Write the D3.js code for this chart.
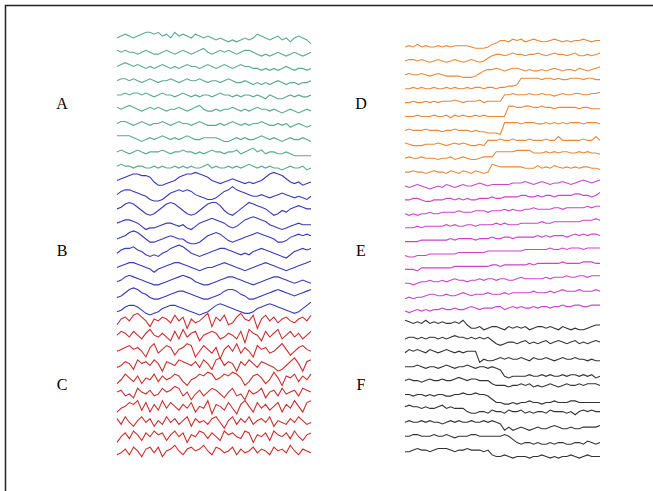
<!DOCTYPE html>
<html>
<head>
<meta charset="utf-8">
<script src="https://d3js.org/d3.v7.min.js"></script>
<style>
  body { margin: 0; background: #fff; }
</style>
</head>
<body>
<svg width="653" height="491"></svg>
<script>
var svg = d3.select("svg");
var width = +svg.attr("width");
var height = +svg.attr("height");

// group labels
var labels = ["A", "B", "C", "D", "E", "F"];

// A: low noise traces
var groupA = [
  [0,1,2,1,0,1,2,3,3,2,3,1,2,0,3,1,2,1,0,2,1,0,1,0,-1,0,-1,-2,-1,-2,-1,0,-1,0,2,1,0,-1,0,1,-1,0,-2,0,1,0,-1,-3],
  [1,0,1,0,0,-1,0,1,0,-1,-1,0,1,0,-1,0,1,0,-1,0,1,2,0,-1,0,1,0,1,0,-1,0,1,1,0,-1,-2,-1,-2,-1,0,-1,-2,-1,0,-1,-2,-1,0],
  [0,1,2,1,0,1,0,-1,0,-1,0,1,0,-1,0,-1,0,1,0,0,-1,0,1,0,-1,0,1,0,-1,0,1,0,0,-1,-1,-2,-1,-2,-1,-2,-1,0,-1,-2,-1,-1,-2,-1],
  [0,1,1,0,1,0,-1,0,1,0,-1,0,0,1,0,-1,0,1,0,0,1,0,-1,0,0,-1,0,1,0,-1,-1,0,-1,-2,-1,-2,-1,-2,-1,0,-1,-2,-1,-1,-2,-1,-1,0],
  [0,0,1,0,1,1,0,1,0,-1,0,1,0,0,-1,0,1,0,-1,0,-1,0,0,-1,0,1,0,0,-1,0,-1,0,0,-1,0,-1,-2,0,-1,-2,-2,-1,0,-1,0,-1,-1,0],
  [1,0,1,2,1,0,-1,0,1,0,1,0,-1,0,0,1,0,-1,0,1,2,0,-1,-1,0,-1,0,0,1,0,-1,0,-1,0,1,0,0,-1,0,-1,-2,-1,0,-1,-2,-1,0,-1],
  [0,1,1,0,-1,0,1,0,-1,0,0,1,0,-1,0,1,0,0,-1,0,1,0,-1,-1,-1,0,-1,0,1,0,-1,0,-1,0,0,1,0,-1,-1,0,-1,0,-2,-1,0,-1,-2,-1],
  [1,1,1,1,0,-1,-2,-1,0,-1,0,1,0,-1,0,-1,0,1,0,-1,-1,0,0,0,0,-1,-2,-2,-1,0,-1,0,-1,-1,0,1,0,-1,0,-1,-2,-1,0,-1,-1,0,-1,-2],
  [0,1,0,-1,0,1,0,-1,0,0,0,1,0,-1,0,0,1,0,0,-1,0,-1,0,1,0,0,-1,0,0,1,-1,0,1,2,0,1,-1,0,0,-1,-1,0,-1,-2,-2,-2,-2,-2],
  [0,1,0,0,-1,0,0,-1,-1,0,-1,0,-1,-1,0,-1,0,-1,0,-1,-1,0,1,-1,0,-1,-1,0,-1,0,-1,0,1,0,-1,0,-1,0,-1,-1,-2,-1,0,-1,-1,0,-2,-1]
];

// B: slow wave traces
var groupB = [
  [0,1,2,3,4,4,3,3,2,-1,-3,-3,-2,-1,0,2,3,4,4,5,4,3,2,0,-1,-2,-1,0,1,0,-1,-2,-1,-2,-1,0,2,4,5,4,3,1,-1,-2,-1,-3,-2,-1],
  [0,2,3,3,2,1,0,-1,-3,-4,-4,-3,-1,1,2,3,2,3,2,0,-1,-2,-3,-3,-2,0,2,3,5,3,2,1,0,-1,-1,0,-1,-2,-1,0,1,0,-1,-2,-1,-2,-3,-1],
  [0,1,3,4,3,1,-1,-3,-4,-3,-1,1,3,4,3,1,-1,-3,-4,-3,-1,1,3,4,4,2,-1,-3,-4,-2,0,2,4,3,2,1,0,-2,-4,-3,-1,-2,0,1,2,1,0,0],
  [0,1,2,2,1,0,-2,-4,-3,-3,-2,-1,0,0,-1,-2,-1,-3,-4,-2,0,1,2,3,2,1,0,-2,-3,-2,0,2,3,4,3,2,1,-1,-2,-3,-4,-3,-2,-1,0,-1,-1,-1],
  [-1,0,1,3,4,3,1,-1,-3,-3,-2,-1,0,1,0,-1,-1,-3,-4,-4,-3,-1,1,2,3,2,0,-2,-3,-2,-1,0,1,2,3,2,1,0,-1,-3,-3,-2,0,1,2,1,2,1],
  [-1,1,2,2,3,1,0,-2,-3,-2,-3,-1,0,2,3,4,3,1,-1,-2,-3,-2,-1,0,1,2,2,1,0,-1,-2,-1,-2,0,1,2,1,0,-1,-2,-3,-4,-2,0,1,2,1,2],
  [-1,0,1,2,2,1,0,-1,-2,-4,-2,-1,0,1,2,2,1,0,-1,-2,-3,-2,-1,-1,0,1,2,1,0,-1,-2,-3,-2,-1,0,1,2,1,0,-1,-2,-3,-2,-1,0,1,2,3],
  [-1,0,2,3,2,1,0,-1,-2,-3,-3,-2,-1,0,1,2,3,2,1,-1,-2,-3,-3,-2,-1,0,1,2,2,1,0,-1,-2,-3,-2,-1,0,1,2,2,1,0,-1,-2,-1,0,-1,-2],
  [-2,-1,1,3,4,3,1,0,-2,-3,-3,-2,-1,0,1,2,2,1,0,-1,-2,-3,-3,-2,-1,0,2,3,3,2,0,-1,-3,-3,-2,-1,0,1,2,3,2,1,0,-1,0,1,2,3],
  [-2,-1,1,2,2,1,-1,-3,-4,-3,-2,0,1,2,2,1,0,-1,-2,-3,-4,-3,-2,0,2,3,2,1,0,-1,-2,-3,-3,-2,0,1,2,3,2,1,0,-1,-2,-3,-2,0,2,4]
];

// C: fast, large noise traces
var groupC = [
  [-1,2,3,1,4,5,3,1,-2,2,1,3,2,0,4,1,3,-3,2,0,1,3,5,-2,3,1,4,-1,0,3,5,2,1,4,-3,2,4,1,3,0,2,3,1,0,2,3,1,4],
  [1,3,2,0,3,1,-1,2,4,1,0,2,0,-2,3,-1,4,0,2,3,-2,1,2,3,2,-1,0,2,1,-1,3,-3,4,2,1,-2,3,0,2,4,-1,1,3,0,2,-1,1,3],
  [0,1,2,3,1,2,0,-3,2,4,-1,1,3,2,-2,1,2,4,3,-3,0,3,1,-1,2,-4,1,3,0,4,-1,2,0,-3,3,1,2,-1,0,2,4,1,-2,0,2,3,1,0],
  [-1,0,2,1,-2,3,1,2,0,3,1,-3,2,1,0,3,2,1,0,2,-1,3,1,-2,3,4,0,2,1,-3,2,0,3,1,-1,2,1,0,-1,-3,-2,0,2,4,1,-3,2,3],
  [-2,0,3,1,-1,2,-2,1,0,3,-1,2,0,1,3,2,-1,-3,0,1,3,2,4,3,0,1,3,2,4,3,1,-3,-1,2,3,1,-2,0,4,1,-3,2,1,3,-1,2,0,3],
  [1,2,-1,0,-2,3,1,0,2,-1,0,3,1,2,4,3,-1,1,-3,0,2,-1,1,3,2,0,-2,1,3,-1,0,-3,2,0,1,3,-2,1,2,-1,3,0,1,2,-1,3,2,1],
  [-2,0,1,3,2,4,-1,3,-2,2,-1,4,0,3,1,-1,2,0,3,-2,1,0,4,-3,2,1,-1,3,0,-3,2,4,1,-2,3,0,2,-1,1,3,-2,2,0,4,1,-2,3,4],
  [2,-1,3,0,-2,1,3,0,2,-2,1,-1,3,0,2,-1,1,3,-2,2,0,1,-1,2,3,0,-3,1,3,-1,2,0,3,-1,1,2,0,3,-2,1,0,-1,2,0,3,1,-1,0],
  [-3,0,2,-1,3,1,-2,2,0,3,1,2,-2,1,3,0,2,-3,1,0,3,2,-1,2,0,-2,3,1,2,0,-1,3,2,-3,1,0,2,-2,3,1,0,2,-1,3,0,-2,1,2],
  [-2,-1,1,-2,2,0,-3,1,2,-1,2,-3,0,1,3,0,-2,1,2,0,1,3,0,-2,2,1,-1,0,2,-2,1,-1,0,2,-1,1,0,-2,2,0,1,-1,3,0,-2,1,0,-1]
];

// D: low noise with an upward step
var groupD = [
  [0,1,0,2,0,1,0,0,1,0,1,0,1,1,1,1,0,-1,-1,-1,0,2,3,5,5,4,6,5,6,4,5,6,5,4,4,5,6,5,4,5,4,5,5,6,5,4,5,5],
  [0,1,1,0,1,0,-1,0,1,0,-1,0,1,0,-1,0,1,0,-1,0,2,4,5,5,4,5,6,5,5,4,5,5,6,5,4,5,6,5,5,4,5,6,4,4,5,4,5,6],
  [0,1,0,0,1,0,-1,0,1,0,-1,-1,-1,-1,-2,-2,-2,-1,1,3,4,4,5,4,3,4,5,5,4,3,4,3,3,4,3,4,5,4,3,4,4,3,5,4,3,4,5,6],
  [0,0,1,0,1,0,0,1,0,0,1,0,1,0,0,1,0,1,1,0,1,1,0,1,1,2,2,3,8,8,8,8,8,7,8,8,7,8,7,7,8,8,8,7,8,8,7,7],
  [0,0,1,0,0,1,0,1,0,1,1,1,2,1,0,1,1,1,2,0,1,1,1,1,6,6,7,6,6,6,7,6,6,7,6,6,5,6,7,6,6,7,7,6,6,7,7,8],
  [0,0,0,1,0,0,0,1,0,0,1,-1,1,0,1,0,0,1,0,1,0,0,0,0,0,8,8,7,7,8,8,7,7,8,7,7,6,7,7,7,7,7,6,7,7,6,6,6],
  [0,1,0,0,0,1,0,0,0,-1,0,0,1,0,0,0,-1,0,-1,-1,-2,-2,-2,-3,6,6,6,6,5,6,6,6,5,5,6,5,6,5,6,5,6,6,6,5,6,6,6,5],
  [1,0,-1,-1,-1,0,0,0,1,0,-1,0,1,0,1,0,-1,-1,0,-1,3,3,3,4,3,3,4,3,3,3,4,3,3,3,4,3,3,6,3,3,3,3,3,4,3,3,6,3],
  [0,1,0,0,1,0,0,0,-1,0,0,1,-1,0,1,0,-1,-1,0,1,1,1,5,5,5,5,5,6,6,6,6,4,4,4,5,4,5,4,5,5,4,4,5,4,5,4,4,3],
  [0,0,1,0,0,-1,0,1,0,0,-1,1,0,-1,1,0,-1,1,0,-1,0,6,5,4,4,4,4,4,4,3,3,3,5,3,4,3,5,4,3,4,3,4,3,4,4,3,3,2]
];

// E: low noise with slow upward drift
var groupE = [
  [0,-1,0,1,0,-1,-2,-1,0,-1,1,0,-1,0,1,0,0,1,2,1,0,1,1,1,1,1,2,2,2,3,2,1,2,3,2,1,2,2,3,2,1,2,3,4,3,2,3,4],
  [0,0,1,1,0,-1,-1,0,0,0,1,1,0,1,0,1,0,0,1,1,1,2,1,1,2,2,2,2,3,3,2,2,3,2,3,3,2,3,3,3,3,4,4,3,3,2,3,5],
  [0,-1,0,-1,0,0,1,0,0,1,1,1,1,2,1,1,1,2,2,2,1,2,2,2,3,2,3,2,2,3,3,4,3,3,3,3,4,4,3,4,4,4,4,4,5,4,5,5],
  [0,0,0,1,0,1,1,1,1,1,2,1,2,1,1,2,2,1,2,2,2,2,3,2,3,2,2,2,3,3,3,3,3,4,3,3,4,4,4,4,4,4,4,5,5,5,6,5],
  [0,0,0,0,1,1,1,1,1,1,1,2,1,2,2,2,2,1,2,2,2,3,2,2,3,3,2,3,3,3,3,3,4,3,4,3,4,4,4,3,4,5,4,5,4,5,5,4],
  [0,-1,-1,0,0,0,1,1,1,1,1,1,1,2,2,2,2,2,2,2,3,3,3,3,3,3,3,3,3,4,4,4,4,4,4,5,4,4,5,4,5,5,5,4,5,5,5,5],
  [0,0,0,-1,1,1,1,1,1,1,1,1,2,2,2,2,2,2,2,2,2,3,3,2,3,3,3,3,3,3,4,3,4,4,4,4,4,4,5,4,4,4,4,5,5,5,4,4],
  [0,0,-1,0,1,1,2,1,1,2,1,2,3,2,2,1,2,2,3,2,3,3,2,3,3,2,2,3,4,3,3,3,3,3,4,3,4,4,4,5,4,4,5,5,4,5,5,5],
  [-1,0,-1,0,0,1,2,2,1,1,2,1,1,2,3,2,1,2,2,2,3,2,2,2,3,2,3,3,3,3,3,4,3,3,3,4,3,4,5,4,4,4,5,4,4,4,5,4],
  [0,-1,0,1,0,1,0,1,1,2,1,1,2,1,1,2,3,2,1,2,2,2,3,3,1,2,3,2,3,2,2,3,2,3,3,2,3,3,4,3,3,4,4,3,3,4,4,4]
];

// F: noise with a downward step
var groupF = [
  [3,2,1,2,1,3,1,2,1,2,1,1,2,1,3,0,-2,-2,-1,-3,-2,-1,-1,-2,-3,-1,-2,-1,-2,-1,-3,-2,-1,-1,-2,-1,-2,-3,-1,-2,-3,-2,-3,-3,-2,-1,0,0],
  [0,1,1,0,1,0,1,1,0,1,0,1,2,1,1,0,1,0,1,0,1,-1,-3,-4,-3,-2,-2,-3,-2,-1,-3,-2,-3,-2,-1,-3,-2,-1,-2,-3,-2,-1,-3,-2,-3,-2,-1,-2],
  [0,2,1,2,1,0,2,1,0,1,2,1,0,1,0,1,1,1,-6,-4,-5,-5,-4,-3,-4,-3,-4,-4,-3,-4,-5,-3,-4,-4,-3,-4,-5,-4,-3,-4,-4,-3,-4,-4,-5,-4,-5,-5],
  [0,0,0,1,0,-1,0,0,-1,0,1,0,-1,0,0,1,0,-1,0,0,-1,0,-1,-2,-6,-7,-6,-6,-6,-6,-5,-6,-6,-5,-6,-5,-6,-6,-5,-6,-5,-5,-6,-5,-6,-5,-7,-6],
  [0,1,0,0,-1,0,1,0,0,1,0,0,1,2,1,0,1,1,0,0,0,-2,-3,-3,-3,-4,-3,-3,-2,-3,-2,-4,-3,-4,-3,-2,-3,-4,-3,-2,-3,-3,-2,-3,-2,-2,-2,-3],
  [0,0,-1,0,0,-1,0,-1,0,0,-1,-1,0,0,1,0,0,1,0,0,-1,-3,-5,-5,-6,-6,-5,-6,-5,-5,-4,-5,-5,-6,-5,-5,-4,-5,-5,-5,-4,-4,-5,-5,-5,-5,-5,-5],
  [1,2,1,1,0,1,0,0,1,2,0,1,0,0,0,-2,-3,-3,-2,-2,-3,-1,-2,-2,-3,-1,-2,-2,-1,-3,-2,-3,-2,-2,-3,-1,-2,-2,-2,-3,-2,-4,-2,-1,-2,-1,-2,-2],
  [0,1,0,0,1,0,1,0,0,-1,0,1,0,1,0,0,1,0,0,1,0,1,0,-1,-5,-3,-5,-4,-3,-4,-5,-4,-3,-4,-4,-3,-2,-3,-4,-4,-3,-4,-4,-3,-3,-3,-3,-2],
  [0,0,1,1,0,0,0,1,0,0,1,0,-1,0,0,0,1,1,0,0,0,0,0,0,1,0,-2,-4,-5,-4,-4,-5,-4,-5,-5,-4,-5,-4,-4,-5,-5,-4,-4,-5,-3,-4,-5,-4],
  [-1,-1,0,1,0,0,-1,0,1,1,1,0,-1,0,0,1,0,0,0,-1,0,-3,-4,-4,-3,-4,-5,-4,-4,-4,-5,-4,-4,-3,-4,-5,-4,-5,-4,-4,-3,-4,-5,-4,-3,-4,-4,-4]
];

var groups = [groupA, groupB, groupC, groupD, groupE, groupF];
var colors = ["#5aab8c", "#3a3ab5", "#cc2e2e", "#e8893a", "#cc44cc", "#333333"];
var gains = [1.9, 1.6, 1.9, 1.3, 1.5, 1.6];

// frame
svg.append("rect")
  .attr("x", 5.5).attr("y", 5.5)
  .attr("width", width + 20).attr("height", height + 20)
  .attr("fill", "none")
  .attr("stroke", "#222")
  .attr("stroke-width", 1.5);

var columns = [
  {x0: 117, x1: 311, y0: 38, step: 14.24, labelX: 62},
  {x0: 405, x1: 600, y0: 47, step: 13.9, labelX: 361}
];
var labelY = [103, 250, 384];

groups.forEach(function(group, g) {
  var col = columns[Math.floor(g / 3)];
  var row = g % 3;
  var x = d3.scaleLinear().domain([0, group[0].length - 1]).range([col.x0, col.x1]);
  var y = d3.scaleLinear().domain([-10, 10]).range([10 * gains[g], -10 * gains[g]]);

  var line = d3.line()
    .x(function(d, i) { return x(i); })
    .y(function(d) { return y(d); });

  svg.append("g")
    .selectAll("path")
    .data(group)
    .enter()
    .append("path")
    .attr("transform", function(d, i) {
      return "translate(0," + (col.y0 + (row * 10 + i) * col.step) + ")";
    })
    .attr("d", line)
    .attr("fill", "none")
    .attr("stroke", colors[g])
    .attr("stroke-width", 1.1);

  svg.append("text")
    .attr("x", col.labelX)
    .attr("y", labelY[row])
    .attr("text-anchor", "middle")
    .attr("dominant-baseline", "central")
    .attr("font-family", "Liberation Serif, Times New Roman, serif")
    .attr("font-size", 16)
    .text(labels[g]);
});
</script>
</body>
</html>
